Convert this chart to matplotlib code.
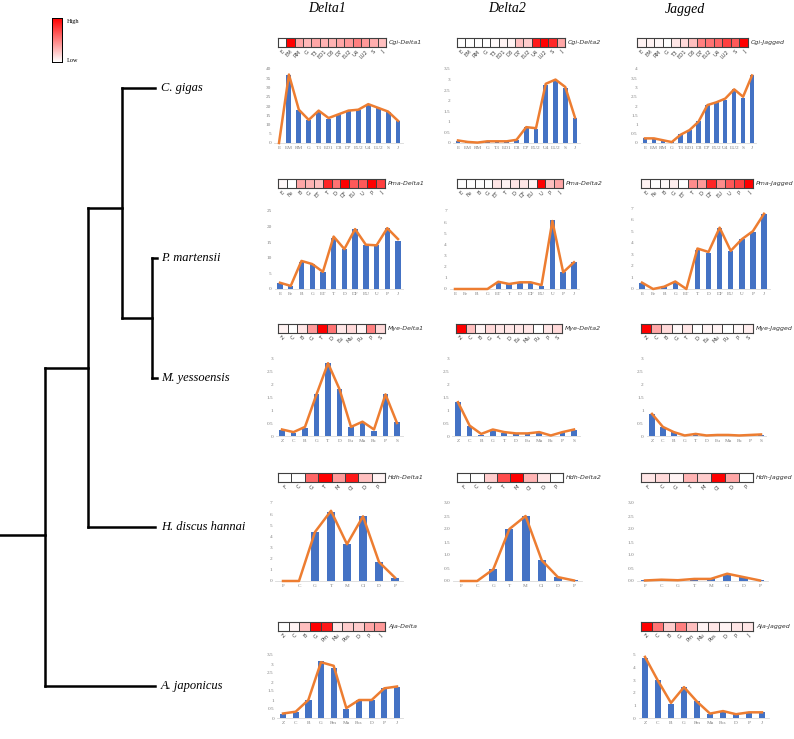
import numpy as np
import matplotlib
matplotlib.use("Agg")
import matplotlib.pyplot as plt
from matplotlib.colors import LinearSegmentedColormap

# ---------------- data ----------------
cgi_cats = ["E", "EM", "RM", "G", "T3", "ED1", "D3", "D7", "EU2", "U4", "LU2", "S", "J"]
pma_cats = ["E", "Fe", "B", "G", "ET", "T", "D", "DF", "EU", "U", "P", "J"]
mye_cats = ["Z", "C", "B", "G", "T", "D", "Eu", "Mu", "Pu", "P", "S"]
hdh_cats = ["F", "C", "G", "T", "M", "Cl", "D", "P"]
aja_cats = ["Z", "C", "B", "G", "Pm", "Mu", "Pos", "D", "P", "J"]

cgi_d1_bar = [0, 37, 18, 12.5, 17, 13, 15.5, 17.5, 18, 20.5, 19, 17, 12]
cgi_d1_line = [0, 37, 18, 12.5, 17.5, 13.5, 15.5, 17.5, 18, 21, 19, 17, 12]
cgi_d1_heat = [0, 1, 0.35, 0.28, 0.35, 0.3, 0.3, 0.35, 0.4, 0.5, 0.4, 0.32, 0.25]
cgi_d2_bar = [0.1, 0.05, 0.02, 0.08, 0.08, 0.08, 0.15, 0.75, 0.65, 2.75, 2.95, 2.6, 1.2]
cgi_d2_line = [0.12, 0.05, 0.02, 0.08, 0.08, 0.08, 0.15, 0.75, 0.7, 2.8, 3.0, 2.65, 1.2]
cgi_d2_heat = [0, 0, 0, 0, 0.02, 0.05, 0.05, 0.25, 0.2, 0.9, 1.0, 0.85, 0.35]
cgi_j_bar = [0.25, 0.22, 0.12, 0.05, 0.5, 0.7, 1.2, 2.05, 2.2, 2.35, 2.9, 2.45, 3.7]
cgi_j_line = [0.25, 0.25, 0.15, 0.05, 0.45, 0.7, 1.15, 2.05, 2.2, 2.4, 2.9, 2.5, 3.65]
cgi_j_heat = [0.05, 0.05, 0.03, 0, 0.1, 0.15, 0.25, 0.5, 0.55, 0.6, 0.75, 0.65, 1.0]

pma_d1_bar = [2, 1, 8.8, 8, 5.5, 16.5, 12.8, 19.2, 14, 14, 19.5, 15.5]
pma_d1_line = [2, 1, 9, 8, 5.5, 16.8, 12.8, 19.2, 14.2, 14, 19.5, 16]
pma_d1_heat = [0.03, 0, 0.35, 0.3, 0.25, 0.85, 0.55, 1.0, 0.65, 0.65, 1.0, 0.75]
pma_d2_bar = [0, 0, 0, 0, 0.6, 0.45, 0.6, 0.5, 0.3, 6.2, 1.5, 2.4]
pma_d2_line = [0, 0, 0, 0, 0.65, 0.45, 0.6, 0.6, 0.35, 6.1, 1.5, 2.4]
pma_d2_heat = [0, 0, 0, 0, 0.1, 0.05, 0.1, 0.1, 0.05, 1.0, 0.25, 0.35]
pma_j_bar = [0.5, 0, 0.15, 0.6, 0, 3.4, 3.1, 5.3, 3.3, 4.3, 4.9, 6.5]
pma_j_line = [0.55, 0, 0.2, 0.65, 0, 3.5, 3.2, 5.3, 3.3, 4.3, 5.0, 6.5]
pma_j_heat = [0.05, 0, 0.02, 0.07, 0, 0.45, 0.4, 0.85, 0.45, 0.65, 0.75, 1.0]

mye_d1_bar = [0.25, 0.12, 0.3, 1.6, 2.8, 1.8, 0.35, 0.55, 0.2, 1.6, 0.55]
mye_d1_line = [0.25, 0.15, 0.35, 1.6, 2.8, 1.8, 0.35, 0.55, 0.25, 1.6, 0.5]
mye_d1_heat = [0.05, 0, 0.1, 0.4, 1.0, 0.55, 0.1, 0.15, 0.05, 0.5, 0.15]
mye_d2_bar = [1.3, 0.4, 0.05, 0.2, 0.1, 0.08, 0.08, 0.12, 0, 0.15, 0.22]
mye_d2_line = [1.3, 0.4, 0.08, 0.25, 0.15, 0.1, 0.1, 0.15, 0.02, 0.15, 0.25]
mye_d2_heat = [1.0, 0.25, 0.05, 0.15, 0.1, 0.1, 0.1, 0.1, 0, 0.1, 0.15]
mye_j_bar = [0.85, 0.35, 0.15, 0.02, 0.05, 0.02, 0.03, 0.03, 0, 0.02, 0.05]
mye_j_line = [0.85, 0.35, 0.15, 0.02, 0.08, 0.02, 0.04, 0.04, 0.02, 0.04, 0.06]
mye_j_heat = [1.0, 0.35, 0.15, 0.03, 0.1, 0, 0.05, 0.05, 0, 0.03, 0.07]

hdh_d1_bar = [0, 0, 4.4, 6.2, 3.3, 5.8, 1.7, 0.3]
hdh_d1_line = [0, 0, 4.4, 6.3, 3.3, 5.8, 1.7, 0.3]
hdh_d1_heat = [0, 0, 0.6, 1.0, 0.4, 0.9, 0.25, 0.05]
hdh_d2_bar = [0, 0, 0.45, 2.0, 2.5, 0.8, 0.15, 0.02]
hdh_d2_line = [0, 0, 0.45, 2.0, 2.5, 0.8, 0.15, 0.02]
hdh_d2_heat = [0, 0, 0.2, 0.7, 1.0, 0.3, 0.1, 0]
hdh_j_bar = [0.02, 0.05, 0.03, 0.08, 0.08, 0.28, 0.15, 0.02]
hdh_j_line = [0.02, 0.05, 0.03, 0.08, 0.08, 0.28, 0.15, 0.02]
hdh_j_heat = [0.1, 0.15, 0.05, 0.3, 0.2, 1.0, 0.35, 0]

aja_d_bar = [0.25, 0.35, 1.0, 3.15, 2.8, 0.5, 1.0, 1.0, 1.65, 1.75]
aja_d_line = [0.25, 0.35, 1.0, 3.1, 2.9, 0.55, 1.0, 1.0, 1.65, 1.75]
aja_d_heat = [0, 0.05, 0.25, 1.0, 0.9, 0.1, 0.2, 0.2, 0.35, 0.4]
aja_j_bar = [4.8, 3.0, 1.15, 2.5, 1.35, 0.3, 0.55, 0.3, 0.45, 0.45]
aja_j_line = [4.85, 2.95, 1.2, 2.45, 1.3, 0.35, 0.55, 0.3, 0.45, 0.45]
aja_j_heat = [1.0, 0.55, 0.2, 0.5, 0.25, 0.05, 0.1, 0.05, 0.1, 0.1]

species = ["C. gigas", "P. martensii", "M. yessoensis", "H. discus hannai", "A. japonicus"]
columns = ["Delta1", "Delta2", "Jagged"]

# ---------------- figure ----------------
W, H = 794, 739
fig = plt.figure(figsize=(W / 100, H / 100), dpi=100)
fig.patch.set_facecolor("white")

BAR_C = "#4472C4"
LINE_C = "#ED7D31"
cmap = LinearSegmentedColormap.from_list("wr", ["#FFFFFF", "#FF0000"])
SERIF = "Liberation Serif"


def ax_px(x0, y0, x1, y1):
    return fig.add_axes([x0 / W, 1 - y1 / H, (x1 - x0) / W, (y1 - y0) / H])


def bar_panel(cats, bars, line, fx, lx, zero_y, top_y, ymax, step, fmt="{:g}"):
    n = len(cats)
    sp = (lx - fx) / (n - 1)
    ax = ax_px(fx - sp / 2, top_y, lx + sp / 2, zero_y)
    x = np.arange(n)
    ax.bar(x, bars, width=0.5, color=BAR_C, zorder=2)
    ax.plot(x, line, color=LINE_C, lw=1.8, zorder=3, clip_on=False)
    ax.set_xlim(-0.5, n - 0.5)
    ax.set_ylim(0, ymax)
    ticks = np.arange(0, ymax + step / 2, step)
    ax.set_yticks(ticks)
    ax.set_yticklabels([fmt.format(t) for t in ticks], fontsize=3.8,
                       family=SERIF, color="#7f7f7f")
    ax.set_xticks(x)
    ax.set_xticklabels(cats, fontsize=3.8, family=SERIF, color="#7f7f7f")
    ax.tick_params(length=0, pad=2)
    for s in ["top", "right", "left"]:
        ax.spines[s].set_visible(False)
    ax.spines["bottom"].set_color("#d9d9d9")
    ax.spines["bottom"].set_linewidth(0.6)
    ax.patch.set_alpha(0)
    return ax


def heat_panel(cats, vals, label, x0, x1, y0, y1):
    ax = ax_px(x0, y0, x1, y1)
    ax.pcolormesh(np.array([vals]), cmap=cmap, vmin=0, vmax=1,
                  edgecolors="#404040", linewidth=0.6)
    n = len(cats)
    ax.set_xlim(0, n)
    ax.set_ylim(0, 1)
    ax.set_yticks([])
    ax.set_xticks(np.arange(n) + 0.5)
    ax.set_xticklabels(cats, fontsize=3.8, rotation=45, ha="right",
                       rotation_mode="anchor", color="#404040")
    ax.tick_params(length=0, pad=1.5)
    for s in ax.spines.values():
        s.set_color("#404040")
        s.set_linewidth(0.8)
    fig.text((x1 + 3) / W, 1 - ((y0 + y1) / 2) / H, label, fontsize=4.5,
             style="italic", va="center", ha="left", color="#333333")
    return ax


# ---- Row 1 : C. gigas ----
heat_panel(cgi_cats, cgi_d1_heat, "Cgi-Delta1", 278, 386, 38, 47)
bar_panel(cgi_cats, cgi_d1_bar, cgi_d1_line, 279, 398, 143, 69, 40, 5)
heat_panel(cgi_cats, cgi_d2_heat, "Cgi-Delta2", 457, 565, 38, 47)
bar_panel(cgi_cats, cgi_d2_bar, cgi_d2_line, 458, 575, 143, 69, 3.5, 0.5)
heat_panel(cgi_cats, cgi_j_heat, "Cgi-Jagged", 637, 748, 38, 47)
bar_panel(cgi_cats, cgi_j_bar, cgi_j_line, 645, 752, 143, 69, 4, 0.5)

# ---- Row 2 : P. martensii ----
heat_panel(pma_cats, pma_d1_heat, "Pma-Delta1", 278, 385, 179, 188)
bar_panel(pma_cats, pma_d1_bar, pma_d1_line, 280, 398, 289, 211, 25, 5)
heat_panel(pma_cats, pma_d2_heat, "Pma-Delta2", 457, 563, 179, 188)
bar_panel(pma_cats, pma_d2_bar, pma_d2_line, 455, 574, 289, 211, 7, 1)
heat_panel(pma_cats, pma_j_heat, "Pma-Jagged", 641, 753, 179, 188)
bar_panel(pma_cats, pma_j_bar, pma_j_line, 642, 764, 289, 208, 7, 1)

# ---- Row 3 : M. yessoensis ----
heat_panel(mye_cats, mye_d1_heat, "Mye-Delta1", 278, 385, 324, 333)
bar_panel(mye_cats, mye_d1_bar, mye_d1_line, 282, 397, 436, 358, 3, 0.5)
heat_panel(mye_cats, mye_d2_heat, "Mye-Delta2", 456, 562, 324, 333)
bar_panel(mye_cats, mye_d2_bar, mye_d2_line, 458, 574, 436, 358, 3, 0.5)
heat_panel(mye_cats, mye_j_heat, "Mye-Jagged", 641, 753, 324, 333)
bar_panel(mye_cats, mye_j_bar, mye_j_line, 652, 761, 436, 358, 3, 0.5)

# ---- Row 4 : H. discus hannai ----
heat_panel(hdh_cats, hdh_d1_heat, "Hdh-Delta1", 278, 385, 473, 482)
bar_panel(hdh_cats, hdh_d1_bar, hdh_d1_line, 283, 395, 581, 503, 7, 1)
heat_panel(hdh_cats, hdh_d2_heat, "Hdh-Delta2", 457, 563, 473, 482)
bar_panel(hdh_cats, hdh_d2_bar, hdh_d2_line, 461, 574, 581, 503, 3, 0.5, "{:.1f}")
heat_panel(hdh_cats, hdh_j_heat, "Hdh-Jagged", 641, 753, 473, 482)
bar_panel(hdh_cats, hdh_j_bar, hdh_j_line, 645, 760, 581, 503, 3, 0.5, "{:.1f}")

# ---- Row 5 : A. japonicus ----
heat_panel(aja_cats, aja_d_heat, "Aja-Delta", 278, 385, 622, 631)
bar_panel(aja_cats, aja_d_bar, aja_d_line, 283, 397, 718, 655, 3.5, 0.5)
heat_panel(aja_cats, aja_j_heat, "Aja-Jagged", 641, 753, 622, 631)
bar_panel(aja_cats, aja_j_bar, aja_j_line, 645, 762, 718, 655, 5, 1)

# ---------------- overlay: tree, titles, legend ----------------
ov = fig.add_axes([0, 0, 1, 1], zorder=-1)
ov.set_xlim(0, W)
ov.set_ylim(H, 0)
ov.axis("off")

tree_segments = [
    ((0, 535), (45, 535)),
    ((45, 368), (45, 686)),
    ((45, 686), (155, 686)),
    ((45, 368), (88, 368)),
    ((88, 208), (88, 527)),
    ((88, 527), (155, 527)),
    ((88, 208), (122, 208)),
    ((122, 88), (122, 318)),
    ((122, 88), (155, 88)),
    ((122, 318), (152, 318)),
    ((152, 258), (152, 378)),
    ((152, 258), (157, 258)),
    ((152, 378), (157, 378)),
]
for (xa, ya), (xb, yb) in tree_segments:
    ov.plot([xa, xb], [ya, yb], color="black", lw=1.8, solid_capstyle="projecting")

sp_y = [88, 258, 378, 527, 686]
for name, yy in zip(species, sp_y):
    ov.text(161, yy, name, fontsize=9, style="italic", family=SERIF,
            va="center", ha="left")

col_x = [327, 507, 685]
for name, xx in zip(columns, col_x):
    ov.text(xx, 9, name, fontsize=10, style="italic", family=SERIF,
            va="center", ha="center")

# colour legend
cb = ax_px(52, 18, 62, 62)
grad = np.linspace(1, 0, 100).reshape(-1, 1)
cb.imshow(grad, cmap=cmap, aspect="auto", vmin=0, vmax=1)
cb.set_xticks([])
cb.set_yticks([])
for s in cb.spines.values():
    s.set_linewidth(0.7)
ov.text(67, 21, "High", fontsize=4.5, family=SERIF, va="center", ha="left")
ov.text(67, 60, "Low", fontsize=4.5, family=SERIF, va="center", ha="left")

fig.savefig("out.png", dpi=100, facecolor="white")
